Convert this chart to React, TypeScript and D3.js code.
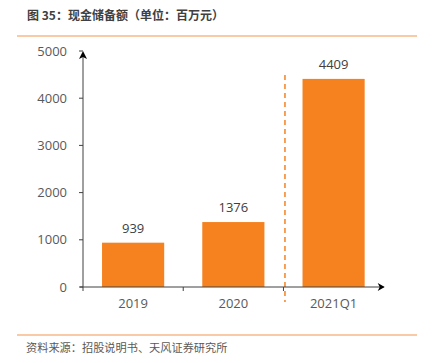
import React from "react";
import * as d3 from "d3";

const categories = ["2019", "2020", "2021Q1"];
const values = [939, 1376, 4409];
const yTicks = [0, 1000, 2000, 3000, 4000, 5000];
const title = "图 35：现金储备额（单位：百万元）";
const source = "资料来源：招股说明书、天风证券研究所";

export default function App() {
  const W = 438, H = 363;
  const x0 = 83, x1 = 383.7, yTop = 51, yBot = 287;
  const x = d3.scaleBand<string>().domain(categories).range([x0, x1]).paddingInner(0.38).paddingOuter(0.19);
  const y = d3.scaleLinear().domain([0, 5000]).range([yBot, yTop]);
  const band = (x1 - x0) / categories.length;
  const numFont = "'Open Sans', 'Noto Sans', sans-serif";
  const cjk = "'Noto Sans CJK SC', sans-serif";
  const orange = "#F5821F";
  const lineCol = "#F8B98A";
  const dashX = x0 + band * 2 + 1.5;
  return (
    <svg width={W} height={H} style={{ position: "absolute", left: 0, top: 0 }}>
      <rect width={W} height={H} fill="#fff" />
      <text x={27} y={20} fontFamily={cjk} fontSize={12} fontWeight={700} fill="#404040">{title}</text>
      <line x1={17} x2={417} y1={36} y2={36} stroke={lineCol} strokeWidth={1.5} />
      {categories.map((c, i) => (
        <rect key={c} x={x(c)} y={y(values[i])} width={x.bandwidth()} height={yBot - y(values[i])} fill={orange} />
      ))}
      {categories.map((c, i) => (
        <text key={c + "v"} x={x(c)! + x.bandwidth() / 2} y={y(values[i]) - 10} textAnchor="middle"
          fontFamily={numFont} fontSize={13} fill="#404040">{values[i]}</text>
      ))}
      <line x1={dashX} x2={dashX} y1={75} y2={302} stroke={orange} strokeWidth={1.5} strokeDasharray="5,4" />
      {/* y axis */}
      <line x1={x0} x2={x0} y1={yBot} y2={yTop + 2} stroke="#404040" strokeWidth={1} />
      <path d={`M${x0 - 4},${yTop + 8} L${x0},${yTop} L${x0 + 4},${yTop + 8} L${x0},${yTop + 6} Z`} fill="#000" />
      {yTicks.map(t => (
        <g key={t}>
          <line x1={x0 - 4} x2={x0} y1={y(t)} y2={y(t)} stroke="#404040" />
          <text x={67} y={y(t)} dy="0.35em" textAnchor="end" fontFamily={numFont} fontSize={13} fill="#595959">{t}</text>
        </g>
      ))}
      {/* x axis */}
      <line x1={x0 - 3} x2={x1} y1={yBot} y2={yBot} stroke="#404040" strokeWidth={1} />
      <path d={`M${x1 - 6},${yBot - 4} L${x1 + 1},${yBot} L${x1 - 6},${yBot + 4} L${x1 - 4},${yBot} Z`} fill="#000" />
      {[0, 1, 2].map(i => (
        <line key={i} x1={x0 + band * i} x2={x0 + band * i} y1={yBot} y2={yBot + 4} stroke="#404040" />
      ))}
      {categories.map(c => (
        <text key={c + "l"} x={x(c)! + x.bandwidth() / 2} y={303} dy="0.35em" textAnchor="middle"
          fontFamily={numFont} fontSize={13} fill="#595959">{c}</text>
      ))}
      <line x1={17} x2={417} y1={335} y2={335} stroke={lineCol} strokeWidth={1.5} />
      <text x={26} y={352} fontFamily={cjk} fontSize={11.2} fill="#595959">{source}</text>
    </svg>
  );
}
